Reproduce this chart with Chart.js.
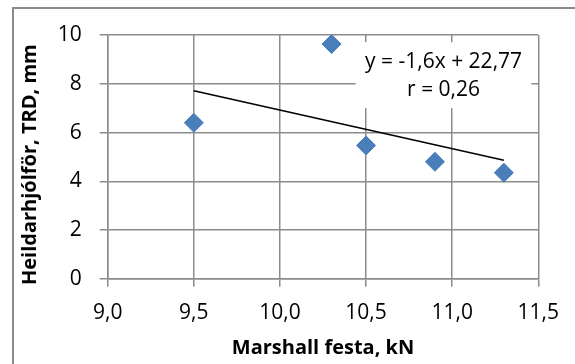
<!DOCTYPE html>
<html>
<head>
<meta charset="utf-8">
<script src="https://cdn.jsdelivr.net/npm/chart.js@4.4.1/dist/chart.umd.min.js"></script>
<style>
  html, body { margin: 0; padding: 0; background: #ffffff; }
  #wrap { position: relative; width: 575px; height: 364px; overflow: hidden; background: #fff; }
  #frame { position: absolute; left: 12px; top: 7px; width: 620px; height: 420px; border: 2px solid #8a8a8a; box-sizing: border-box; }
  #c { position: absolute; left: 0; top: 0; }
</style>
</head>
<body>
<div id="wrap">
  <div id="frame"></div>
  <canvas id="c" width="575" height="364"></canvas>
</div>
<script>
// ---- data ----
const xValues = [9.5, 10.3, 10.5, 10.9, 11.3];          // Marshall festa, kN
const yValues = [6.40, 9.63, 5.47, 4.80, 4.35];         // Heildarhjólför, TRD, mm
const trendX = [9.5, 11.3];
const trendY = [7.71, 4.86];
const xTicks = [9.0, 9.5, 10.0, 10.5, 11.0, 11.5];
const xTickLabels = ['9,0', '9,5', '10,0', '10,5', '11,0', '11,5'];
const yTicks = [0, 2, 4, 6, 8, 10];
const yTickLabels = ['0', '2', '4', '6', '8', '10'];
const xTitle = 'Marshall festa, kN';
const yTitle = 'Heildarhjólför, TRD, mm';
const eqLines = ['y = -1,6x + 22,77', 'r = 0,26'];

const points = xValues.map((x, i) => ({ x: x, y: yValues[i] }));
const trend = trendX.map((x, i) => ({ x: x, y: trendY[i] }));

const gridColor = '#8c8c8c';
const fontFam = '"Open Sans", "Liberation Sans", sans-serif';

const eqBox = {
  id: 'eqBox',
  beforeDatasetsDraw(chart) {
    const { ctx, scales: { x, y } } = chart;
    const l = x.getPixelForValue(10.44), r = x.getPixelForValue(11.46);
    const t = y.getPixelForValue(9.71), b = y.getPixelForValue(7.0);
    ctx.save();
    ctx.fillStyle = '#ffffff';
    ctx.fillRect(l, t, r - l, b - t);
    ctx.fillStyle = '#000000';
    ctx.font = '21px ' + fontFam;
    ctx.textAlign = 'center';
    ctx.textBaseline = 'middle';
    const cx = x.getPixelForValue(10.95);
    ctx.fillText(eqLines[0], cx, y.getPixelForValue(8.89));
    ctx.fillText(eqLines[1], cx, y.getPixelForValue(7.73));
    ctx.restore();
  }
};

new Chart(document.getElementById('c'), {
  type: 'scatter',
  data: {
    datasets: [
      {
        label: 'TRD',
        data: points,
        pointStyle: 'rectRot',
        pointRadius: 9.5,
        pointHoverRadius: 9.5,
        backgroundColor: '#4A7EBB',
        borderColor: '#4A7EBB',
        borderWidth: 1,
        showLine: false
      },
      {
        label: 'trend',
        data: trend,
        type: 'line',
        showLine: true,
        pointRadius: 0,
        borderColor: '#000000',
        borderWidth: 1.6,
        fill: false
      }
    ]
  },
  options: {
    responsive: false,
    animation: false,
    events: [],
    layout: { padding: { left: 0, top: 35, right: 36.7, bottom: 0 } },
    plugins: {
      legend: { display: false },
      tooltip: { enabled: false }
    },
    scales: {
      x: {
        type: 'linear',
        min: 9.0,
        max: 11.5,
        afterBuildTicks: (s) => { s.ticks = xTicks.map(v => ({ value: v })); },
        afterFit: (s) => { s.height = 85.2; },
        ticks: {
          color: '#000',
          font: { family: fontFam, size: 21 },
          padding: 14,
          maxRotation: 0,
          callback: (v, i) => xTickLabels[i]
        },
        grid: { color: gridColor, lineWidth: 1.5, tickLength: 8, tickColor: gridColor, drawTicks: true },
        border: { color: gridColor, width: 1.5 },
        title: {
          display: true,
          text: xTitle,
          color: '#000',
          font: { family: fontFam, size: 20, weight: 'bold' },
          padding: { top: 0, bottom: 4 }
        }
      },
      y: {
        type: 'linear',
        min: 0,
        max: 10,
        afterBuildTicks: (s) => { s.ticks = yTicks.map(v => ({ value: v })); },
        afterFit: (s) => { s.width = 107.7; },
        ticks: {
          color: '#000',
          font: { family: fontFam, size: 21 },
          padding: 18,
          callback: (v, i) => yTickLabels[i]
        },
        grid: { color: gridColor, lineWidth: 1.5, tickLength: 8, tickColor: gridColor, drawTicks: true },
        border: { color: gridColor, width: 1.5 },
        title: {
          display: true,
          text: yTitle + '   ',
          color: '#000',
          font: { family: fontFam, size: 20, weight: 'bold' },
          padding: { top: 18, bottom: 0 }
        }
      }
    }
  },
  plugins: [eqBox]
});
</script>
</body>
</html>
